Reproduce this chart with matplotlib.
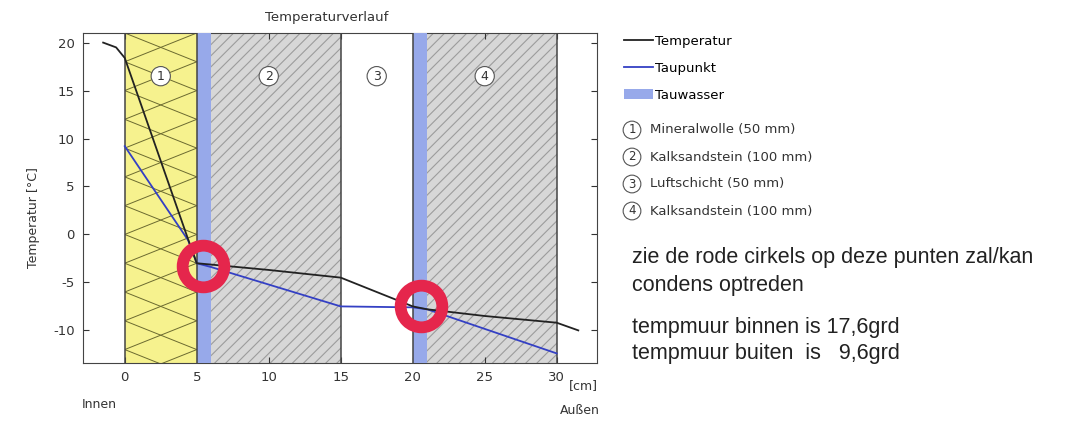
import matplotlib
matplotlib.use('Agg')
import matplotlib.pyplot as plt
from matplotlib.patches import Patch
from matplotlib.lines import Line2D
import numpy as np

# ---------------- data ----------------
layer_bounds = [0, 5, 15, 20, 30]
layer_names = ["Mineralwolle (50 mm)", "Kalksandstein (100 mm)",
               "Luftschicht (50 mm)", "Kalksandstein (100 mm)"]
layer_kind = ["wool", "brick", "air", "brick"]
condensation_zones = [(5, 6), (20, 21)]

temp_x = [-1.5, -0.6, 0, 4.4, 5, 10, 15, 20, 21, 25, 30, 31.5]
temp_y = [20.0, 19.5, 18.4, -0.5, -3.0, -3.7, -4.5, -7.5, -7.8, -8.5, -9.2, -10.0]

dew_x = [0, 4.4, 5, 6, 15, 20, 21, 30]
dew_y = [9.2, -0.6, -3.0, -3.4, -7.5, -7.6, -7.8, -12.4]

circle_x = [5.4, 20.6]
circle_y = [-3.3, -7.5]

xticks = [0, 5, 10, 15, 20, 25, 30]
yticks = [20, 15, 10, 5, 0, -5, -10]

notes = ["zie de rode cirkels op deze punten zal/kan",
         "condens optreden",
         "tempmuur binnen is 17,6grd",
         "tempmuur buiten  is   9,6grd"]

# ---------------- style ----------------
plt.rcParams['axes.unicode_minus'] = False
plt.rcParams['hatch.linewidth'] = 0.8
W, H = 1084, 421
fig = plt.figure(figsize=(W / 100, H / 100), dpi=100)
ax = fig.add_axes([83 / W, 1 - 363 / H, (597 - 83) / W, (363 - 33) / H])
ax.set_xlim(-2.9, 32.8)
ax.set_ylim(-13.4, 21.0)

YEL = '#f6f28e'
GREY = '#d7d7d7'
BLUE = '#97a9ea'
DARK = '#333333'

for (a, b), kind in zip(zip(layer_bounds[:-1], layer_bounds[1:]), layer_kind):
    if kind == 'wool':
        rect = ax.axvspan(a, b, facecolor=YEL, edgecolor='none', zorder=1)
        # zigzag insulation pattern
        xs = np.array([a, b])
        for y0 in np.arange(-30, 40, 3.0):
            for s in (0.6, -0.6):
                ln, = ax.plot(xs, y0 + s * (xs - a), color='#6b6a30', lw=0.7, zorder=2)
                ln.set_clip_path(rect)
    elif kind == 'brick':
        ax.axvspan(a, b, facecolor=GREY, edgecolor='#9c9c9c', hatch='///', lw=0, zorder=1)

for a, b in condensation_zones:
    ax.axvspan(a, b, facecolor=BLUE, edgecolor='none', zorder=3)

for xb in layer_bounds:
    ax.axvline(xb, color='#444444', lw=1.1, zorder=4)

ax.plot(temp_x, temp_y, color='#222222', lw=1.3, zorder=6)
ax.plot(dew_x, dew_y, color='#3440c4', lw=1.3, zorder=5)

ax.plot(circle_x, circle_y, 'o', ms=30, mfc='none', mec='#e5264c', mew=8.5, zorder=7)

for i, (a, b) in enumerate(zip(layer_bounds[:-1], layer_bounds[1:])):
    ax.text((a + b) / 2, 16.5, str(i + 1), ha='center', va='center', fontsize=9,
            color=DARK, zorder=8,
            bbox=dict(boxstyle='circle,pad=0.25', fc='white', ec='#555555', lw=0.8))

ax.set_xticks(xticks)
ax.set_yticks(yticks)
ax.tick_params(direction='in', top=True, right=True, length=4, labelsize=9.5,
               colors=DARK, labelcolor='#333333', pad=6)
for sp in ax.spines.values():
    sp.set_color('#444444')

ax.set_ylabel('Temperatur [°C]', fontsize=9, color=DARK)
ax.yaxis.set_label_coords(-0.083, 0.44)

fig.text(327 / W, 1 - 17 / H, 'Temperaturverlauf', ha='center', va='center',
         fontsize=9.5, color=DARK)
fig.text(82 / W, 1 - 405 / H, 'Innen', ha='left', va='center', fontsize=9, color=DARK)
fig.text(598 / W, 1 - 386 / H, '[cm]', ha='right', va='center', fontsize=9, color=DARK)
fig.text(600 / W, 1 - 411 / H, 'Außen', ha='right', va='center', fontsize=9, color=DARK)

handles = [Line2D([], [], color='#222222', lw=1.3),
           Line2D([], [], color='#3440c4', lw=1.3),
           Patch(facecolor=BLUE, edgecolor='none')]
ax.legend(handles, ['Temperatur', 'Taupunkt', 'Tauwasser'],
          loc='upper left', bbox_to_anchor=(624 / W, 1 - 35 / H),
          bbox_transform=fig.transFigure, frameon=False, fontsize=9.5,
          handlelength=2.2, handletextpad=0.15, labelspacing=1.05,
          borderaxespad=0, borderpad=0)

for i, name in enumerate(layer_names):
    y = 1 - (130 + 27 * i) / H
    fig.text(632 / W, y, str(i + 1), ha='center', va='center', fontsize=8.5, color=DARK,
             bbox=dict(boxstyle='circle,pad=0.2', fc='white', ec='#555555', lw=0.8))
    fig.text(650 / W, y, name, ha='left', va='center', fontsize=9.5, color=DARK)

note_y = [258, 285, 328, 353]
for txt, yy in zip(notes, note_y):
    fig.text(632 / W, 1 - yy / H, txt, ha='left', va='center', fontsize=15.5,
             family='Liberation Sans', color='#222222')

fig.savefig('out.png', dpi=100)
